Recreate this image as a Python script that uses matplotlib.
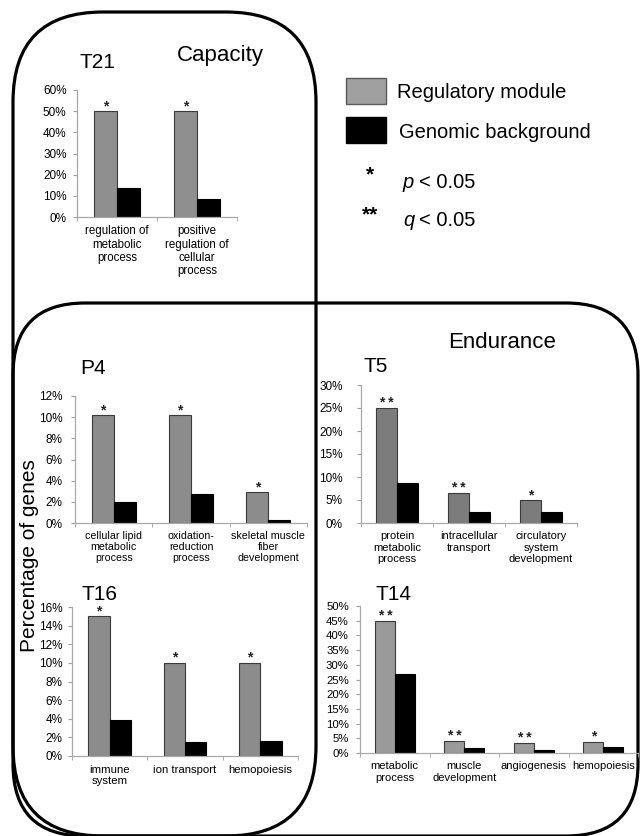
import matplotlib.pyplot as plt
from matplotlib.patches import FancyBboxPatch, Rectangle
import numpy as np

plt.rcParams['font.family'] = ['Liberation Sans', 'DejaVu Sans']

W, H = 641, 836

# --- data (percentage of genes) ---
t21_terms = ['regulation of\nmetabolic\nprocess', 'positive\nregulation of\ncellular\nprocess']
t21_module = [50, 50]
t21_background = [13.5, 8.5]
t21_sig = ['*', '*']

p4_terms = ['cellular lipid\nmetabolic\nprocess', 'oxidation-\nreduction\nprocess',
            'skeletal muscle\nfiber\ndevelopment']
p4_module = [10.2, 10.2, 2.9]
p4_background = [2.0, 2.75, 0.25]
p4_sig = ['*', '*', '*']

t5_terms = ['protein\nmetabolic\nprocess', 'intracellular\ntransport', 'circulatory\nsystem\ndevelopment']
t5_module = [25, 6.5, 4.9]
t5_background = [8.7, 2.5, 2.3]
t5_sig = ['**', '**', '*']

t16_terms = ['immune\nsystem', 'ion transport', 'hemopoiesis']
t16_module = [15, 10, 10]
t16_background = [3.9, 1.5, 1.6]
t16_sig = ['*', '*', '*']

t14_terms = ['metabolic\nprocess', 'muscle\ndevelopment', 'angiogenesis', 'hemopoiesis']
t14_module = [45, 4.2, 3.4, 3.9]
t14_background = [26.8, 1.6, 1.1, 1.9]
t14_sig = ['**', '**', '**', '*']

fig = plt.figure(figsize=(W / 100, H / 100), dpi=100)

# background axes in pixel coordinates for boxes, titles and legend
bg = fig.add_axes([0, 0, 1, 1])
bg.set_xlim(0, W)
bg.set_ylim(H, 0)
bg.axis('off')


def box(x0, y0, x1, y1, r):
    bg.add_patch(FancyBboxPatch((x0, y0), x1 - x0, y1 - y0,
                                boxstyle=f'round,pad=0,rounding_size={r}',
                                fc='none', ec='black', lw=2.3))


box(13, 12, 316, 836, 90)
box(13, 303, 638, 836, 72)


def panel(bounds, terms, module, background, sig, ymax, ystep, gray,
          tick_fs, cat_fs, ypad, xpad, bar_w=0.285):
    left, top, right, bottom = bounds
    ax = fig.add_axes([left / W, 1 - bottom / H, (right - left) / W, (bottom - top) / H])
    ax.set_facecolor('none')
    x = np.arange(len(terms))
    ax.bar(x - bar_w / 2, module, bar_w, color=gray, edgecolor='#3a3a3a', lw=0.8, zorder=3)
    ax.bar(x + bar_w / 2, background, bar_w, color='black', edgecolor='black', lw=0.8, zorder=3)
    for xi, v, s in zip(x, module, sig):
        ax.annotate(' '.join(s), (xi - bar_w / 2, v), xytext=(0, -1.5), textcoords='offset points',
                    ha='center', va='bottom', fontsize=10, fontweight='bold', color='#222222')
    ax.set_xlim(-0.5, len(terms) - 0.5)
    ax.set_ylim(0, ymax)
    ax.set_yticks(np.arange(0, ymax + 0.01, ystep))
    ax.set_yticklabels([f'{int(t)}%' for t in np.arange(0, ymax + 0.01, ystep)])
    ax.set_xticks(x)
    ax.set_xticklabels(terms, fontsize=cat_fs, linespacing=1.15)
    ax.set_xticks(np.arange(-0.5, len(terms)), minor=True)
    ax.tick_params(axis='x', which='major', length=0, pad=xpad)
    ax.tick_params(axis='x', which='minor', length=3, color='#a0a0a0', direction='out')
    ax.tick_params(axis='y', length=3, color='#a0a0a0', direction='out', labelsize=tick_fs, pad=ypad)
    for sp in ['top', 'right']:
        ax.spines[sp].set_visible(False)
    for sp in ['left', 'bottom']:
        ax.spines[sp].set_color('#a8a8a8')
        ax.spines[sp].set_linewidth(0.9)
    ax.spines['bottom'].set_zorder(4)
    return ax


panel((77, 90, 237, 217), t21_terms, t21_module, t21_background, t21_sig, 60, 10,
      '#8f8f8f', 8.5, 8.3, 4.5, 6)
panel((75, 396, 307, 523), p4_terms, p4_module, p4_background, p4_sig, 12, 2,
      '#8c8c8c', 8.5, 7.7, 6, 5.5)
panel((361, 385, 577, 523), t5_terms, t5_module, t5_background, t5_sig, 30, 5,
      '#7c7c7c', 8.5, 8, 10, 6)
panel((72, 607, 298, 756), t16_terms, t16_module, t16_background, t16_sig, 16, 2,
      '#8c8c8c', 8.5, 8.2, 4, 6.5)
panel((360, 606, 638, 753), t14_terms, t14_module, t14_background, t14_sig, 50, 5,
      '#9a9a9a', 8.2, 8, 5, 6)

# panel titles and group names
bg.text(80, 63, 'T21', fontsize=15, va='center')
bg.text(177, 55, 'Capacity', fontsize=16, va='center')
bg.text(80, 368, 'P4', fontsize=15, va='center')
bg.text(448, 342, 'Endurance', fontsize=16, va='center')
bg.text(363, 367, 'T5', fontsize=15, va='center')
bg.text(82, 595, 'T16', fontsize=15, va='center')
bg.text(375, 595, 'T14', fontsize=15, va='center')
bg.text(30, 556, 'Percentage of genes', fontsize=15, rotation=90, ha='center', va='center')

# legend
bg.add_patch(Rectangle((346, 78), 40, 26, fc='#a0a0a0', ec='#5a5a5a', lw=1))
bg.add_patch(Rectangle((346, 117), 40, 26, fc='black', ec='black', lw=1))
bg.text(397, 92, 'Regulatory module', fontsize=14.5, va='center')
bg.text(399, 132, 'Genomic background', fontsize=14.5, va='center')
bg.text(370, 180, '*', fontsize=15, fontweight='bold', ha='center', va='baseline')
bg.text(370, 220, '**', fontsize=15, fontweight='bold', ha='center', va='baseline')
bg.text(403, 182, 'p', fontsize=14.5, style='italic', va='center')
bg.text(419, 182, '< 0.05', fontsize=14.5, va='center')
bg.text(403, 220, 'q', fontsize=14.5, style='italic', va='center')
bg.text(419, 220, '< 0.05', fontsize=14.5, va='center')

fig.savefig('out.png', dpi=100)
